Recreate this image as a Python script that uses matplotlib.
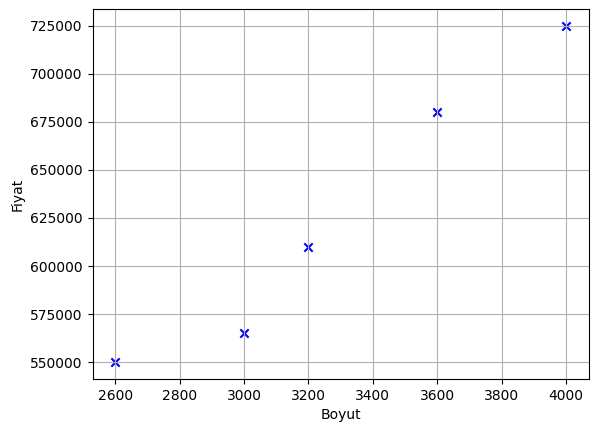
import matplotlib
matplotlib.use("Agg")
import matplotlib.pyplot as plt

boyut = [2600, 3000, 3200, 3600, 4000]
fiyat = [550000, 565000, 610000, 680000, 725000]

fig = plt.figure(figsize=(5.97, 4.32), dpi=100)
ax = fig.add_axes([0.155, 0.123, 0.831, 0.856])
ax.scatter(boyut, fiyat, marker='x', color='blue')
ax.set_xlabel('Boyut')
ax.set_ylabel('Fiyat')
ax.grid(True)
fig.savefig('out.png', dpi=100)
